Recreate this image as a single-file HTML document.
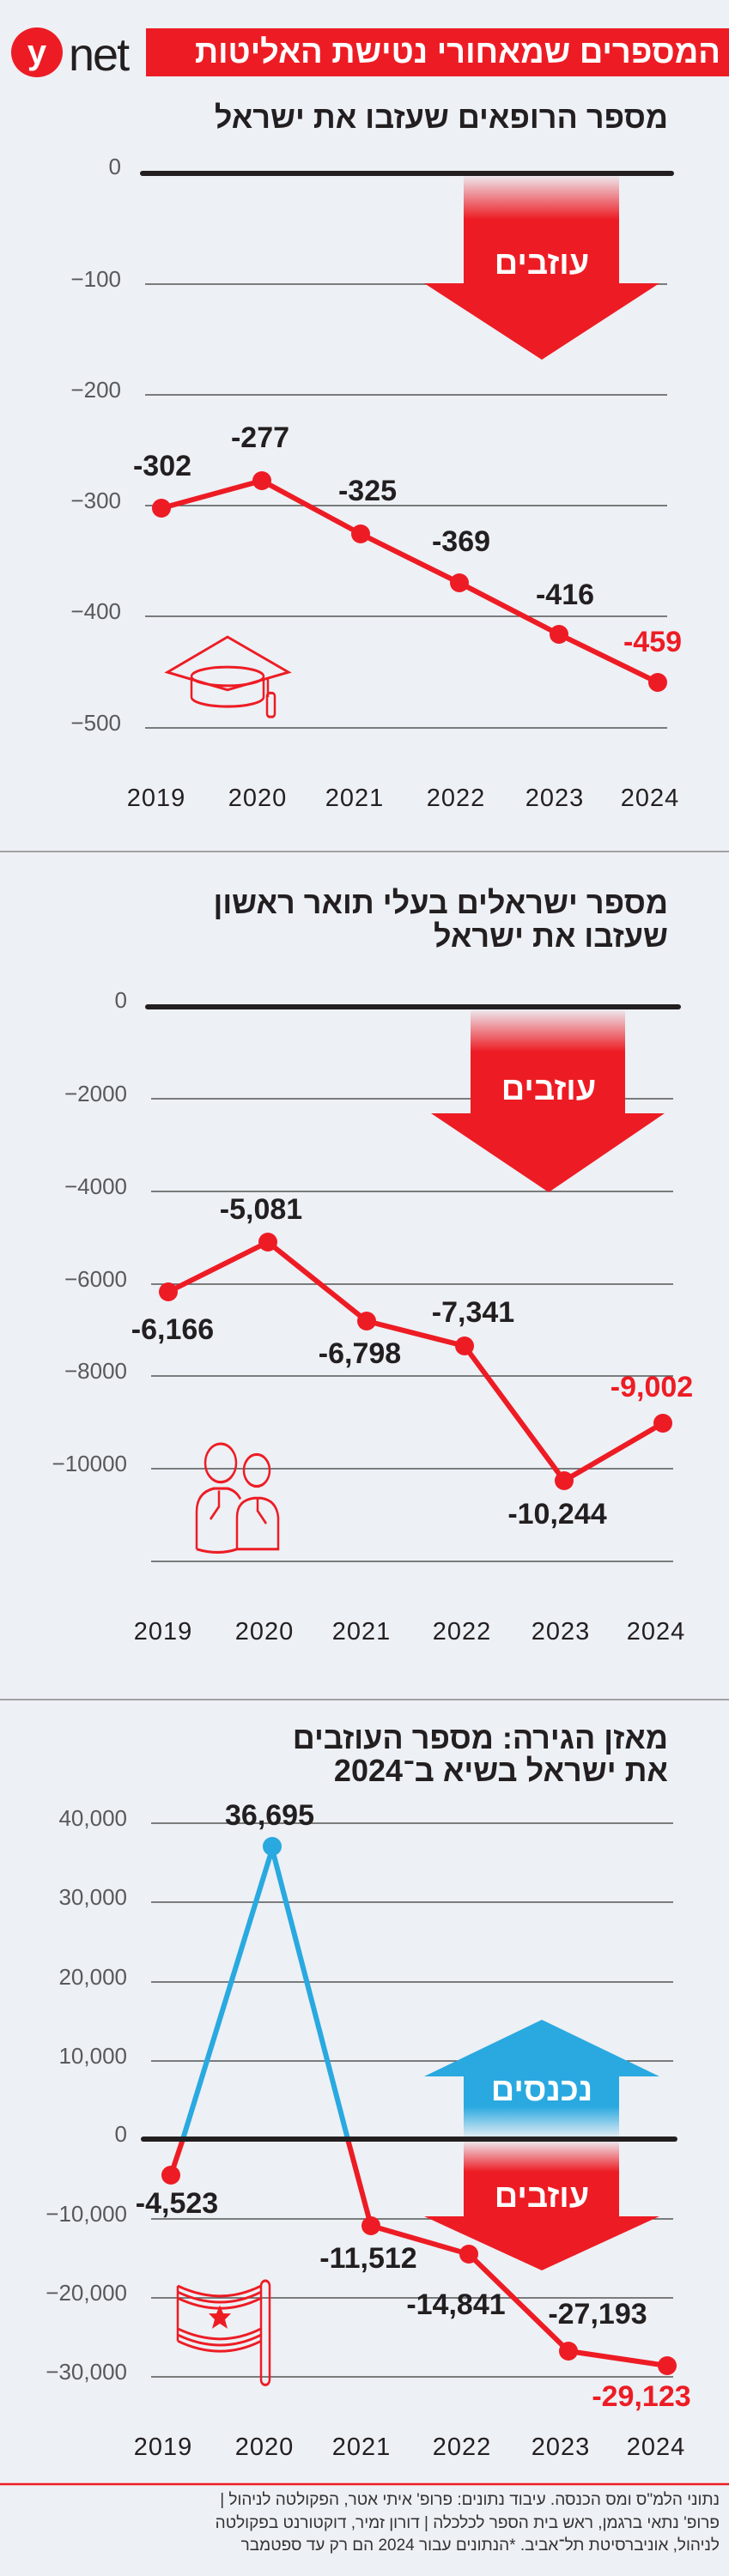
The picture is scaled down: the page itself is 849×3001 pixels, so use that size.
<!DOCTYPE html>
<html><head><meta charset="utf-8">
<style>
html,body{margin:0;padding:0;background:#edf0f5;}
#w{position:relative;width:849px;height:3001px;overflow:hidden;background:#edf0f5;font-family:"Liberation Sans","Noto Sans CJK SC",sans-serif;}
.h{position:absolute;right:71px;direction:rtl;text-align:right;font-weight:bold;color:#231f20;font-size:36px;line-height:39px;white-space:nowrap;}
.f{position:absolute;right:11px;direction:rtl;text-align:right;color:#333;font-size:19px;line-height:26.5px;white-space:nowrap;}
svg{position:absolute;left:0;top:0;}
</style></head><body><div id="w">
<svg width="849" height="3001" viewBox="0 0 849 3001" font-family="Liberation Sans, sans-serif">
<defs>
<linearGradient id="gr" x1="0" y1="0" x2="0" y2="1">
<stop offset="0" stop-color="#ed1c24" stop-opacity="0.05"/><stop offset="0.4" stop-color="#ed1c24" stop-opacity="1"/><stop offset="1" stop-color="#ed1c24"/></linearGradient>
<linearGradient id="gb" x1="0" y1="1" x2="0" y2="0">
<stop offset="0" stop-color="#29a9e0" stop-opacity="0.05"/><stop offset="0.5" stop-color="#29a9e0" stop-opacity="1"/><stop offset="1" stop-color="#29a9e0"/></linearGradient>
</defs>
<!-- header -->
<rect x="170" y="33" width="679" height="56" fill="#ed1c24"/>
<ellipse cx="43" cy="61" rx="30" ry="29" fill="#ed1c24"/>
<text x="43" y="74" font-size="40" font-weight="bold" fill="#fff" text-anchor="middle">y</text>
<text x="80" y="82" font-size="54" fill="#231f20" letter-spacing="-2">net</text>

<!-- CHART 1 -->
<g stroke="#555" stroke-width="1.5">
<line x1="169" y1="331" x2="777" y2="331"/><line x1="169" y1="460" x2="777" y2="460"/>
<line x1="169" y1="589" x2="777" y2="589"/><line x1="169" y1="718" x2="777" y2="718"/>
<line x1="169" y1="848" x2="777" y2="848"/></g>
<rect x="540" y="205" width="181" height="127" fill="url(#gr)"/>
<polygon points="494,330 768,330 631,419" fill="#ed1c24"/>
<line x1="166" y1="202" x2="782" y2="202" stroke="#231f20" stroke-width="6" stroke-linecap="round"/>
<g font-size="26" fill="#58595b" text-anchor="end">
<text x="141" y="202" dy="1">0</text><text x="141" y="331" dy="3">−100</text><text x="141" y="460" dy="3">−200</text>
<text x="141" y="589" dy="3">−300</text><text x="141" y="718" dy="3">−400</text><text x="141" y="848" dy="3">−500</text></g>
<polyline points="188,592 305,560 420,622 535,679 651,739 766,795" fill="none" stroke="#ed1c24" stroke-width="6"/>
<g fill="#ed1c24"><circle cx="188" cy="592" r="11"/><circle cx="305" cy="560" r="11"/><circle cx="420" cy="622" r="11"/><circle cx="535" cy="679" r="11"/><circle cx="651" cy="739" r="11"/><circle cx="766" cy="795" r="11"/></g>
<g font-size="34" font-weight="bold" fill="#231f20" text-anchor="middle">
<text x="189" y="554">-302</text><text x="303" y="521">-277</text><text x="428" y="583">-325</text><text x="537" y="642">-369</text><text x="658" y="704">-416</text>
<text x="760" y="759" fill="#ed1c24">-459</text></g>
<g font-size="29" fill="#231f20" text-anchor="middle" letter-spacing="1">
<text x="182" y="939">2019</text><text x="300" y="939">2020</text><text x="413" y="939">2021</text><text x="531" y="939">2022</text><text x="646" y="939">2023</text><text x="757" y="939">2024</text></g>
<text x="631" y="319" font-size="38" font-weight="bold" fill="#fff" text-anchor="middle">עוזבים</text>
<g fill="none" stroke="#ed1c24" stroke-width="2.5" transform="translate(0,742) scale(1,1.21) translate(0,-632)">
<polygon points="195,666 265,632 336,666 265,683"/>
<ellipse cx="265" cy="670" rx="42" ry="9"/><path d="M223,672 v18 a42,9 0 0 0 84,0 v-18"/>
<path d="M312,672 v18"/><rect x="311" y="686" width="9" height="23" rx="3"/></g>
<line x1="0" y1="992" x2="849" y2="992" stroke="#888" stroke-width="1.5"/>

<!-- CHART 2 -->
<g stroke="#555" stroke-width="1.5">
<line x1="176" y1="1280" x2="784" y2="1280"/><line x1="176" y1="1388" x2="784" y2="1388"/>
<line x1="176" y1="1496" x2="784" y2="1496"/><line x1="176" y1="1603" x2="784" y2="1603"/>
<line x1="176" y1="1711" x2="784" y2="1711"/><line x1="176" y1="1819" x2="784" y2="1819"/></g>
<rect x="548" y="1177" width="180" height="121" fill="url(#gr)"/>
<polygon points="502,1297 774,1297 639,1389" fill="#ed1c24"/>
<line x1="172" y1="1173" x2="790" y2="1173" stroke="#231f20" stroke-width="6" stroke-linecap="round"/>
<g font-size="26" fill="#58595b" text-anchor="end">
<text x="148" y="1173" dy="1">0</text><text x="148" y="1280" dy="3">−2000</text><text x="148" y="1388" dy="3">−4000</text>
<text x="148" y="1496" dy="3">−6000</text><text x="148" y="1603" dy="3">−8000</text><text x="148" y="1711" dy="3">−10000</text></g>
<polyline points="196,1505 312,1447 427,1539 541,1568 657,1725 772,1658" fill="none" stroke="#ed1c24" stroke-width="6"/>
<g fill="#ed1c24"><circle cx="196" cy="1505" r="11"/><circle cx="312" cy="1447" r="11"/><circle cx="427" cy="1539" r="11"/><circle cx="541" cy="1568" r="11"/><circle cx="657" cy="1725" r="11"/><circle cx="772" cy="1658" r="11"/></g>
<g font-size="34" font-weight="bold" fill="#231f20" text-anchor="middle">
<text x="201" y="1560">-6,166</text><text x="304" y="1420">-5,081</text><text x="419" y="1588">-6,798</text><text x="551" y="1540">-7,341</text><text x="649" y="1775">-10,244</text>
<text x="759" y="1627" fill="#ed1c24">-9,002</text></g>
<g font-size="29" fill="#231f20" text-anchor="middle" letter-spacing="1">
<text x="190" y="1910">2019</text><text x="308" y="1910">2020</text><text x="421" y="1910">2021</text><text x="538" y="1910">2022</text><text x="653" y="1910">2023</text><text x="764" y="1910">2024</text></g>
<text x="639" y="1281" font-size="38" font-weight="bold" fill="#fff" text-anchor="middle">עוזבים</text>
<g fill="none" stroke="#ed1c24" stroke-width="2.5" transform="translate(0,1682) scale(1,1.24) translate(0,-1581)">
<circle cx="257" cy="1599" r="18"/><circle cx="299" cy="1606" r="15"/>
<path d="M229,1680 v-35 q0,-18 20,-22 h16 q10,2 15,10"/>
<path d="M276,1680 v-30 q0,-16 20,-18 h8 q18,2 20,18 v30 z"/>
<path d="M229,1680 q25,6 47,0"/><path d="M255,1625 v15 l-10,12"/><path d="M300,1632 v12 l10,12"/></g>
<line x1="0" y1="1980" x2="849" y2="1980" stroke="#888" stroke-width="1.5"/>

<!-- CHART 3 -->
<g stroke="#555" stroke-width="1.5">
<line x1="176" y1="2124" x2="784" y2="2124"/><line x1="176" y1="2216" x2="784" y2="2216"/>
<line x1="176" y1="2309" x2="784" y2="2309"/><line x1="176" y1="2401" x2="784" y2="2401"/>
<line x1="176" y1="2585" x2="784" y2="2585"/><line x1="176" y1="2677" x2="784" y2="2677"/>
<line x1="176" y1="2769" x2="784" y2="2769"/></g>
<polygon points="494,2419 768,2419 631,2353" fill="#29a9e0"/>
<rect x="540" y="2418" width="181" height="72" fill="url(#gb)"/>
<rect x="540" y="2495" width="181" height="88" fill="url(#gr)"/>
<polygon points="494,2582 768,2582 631,2645" fill="#ed1c24"/>
<text x="631" y="2447" font-size="38" font-weight="bold" fill="#fff" text-anchor="middle">נכנסים</text>
<text x="631" y="2571" font-size="38" font-weight="bold" fill="#fff" text-anchor="middle">עוזבים</text>
<g font-size="26" fill="#58595b" text-anchor="end">
<text x="148" y="2124" dy="3">40,000</text><text x="148" y="2216" dy="3">30,000</text><text x="148" y="2309" dy="3">20,000</text>
<text x="148" y="2401" dy="3">10,000</text><text x="148" y="2492" dy="3">0</text><text x="148" y="2585" dy="3">−10,000</text>
<text x="148" y="2677" dy="3">−20,000</text><text x="148" y="2769" dy="3">−30,000</text></g>
<polyline points="213,2492 317,2154 405,2492" fill="none" stroke="#29a9e0" stroke-width="6"/>
<polyline points="199,2534 213,2492" fill="none" stroke="#ed1c24" stroke-width="6"/>
<polyline points="405,2492 432,2593 546,2626 662,2739 777,2756" fill="none" stroke="#ed1c24" stroke-width="6"/>
<line x1="167" y1="2492" x2="786" y2="2492" stroke="#231f20" stroke-width="6" stroke-linecap="round"/>
<circle cx="317" cy="2151" r="11" fill="#29a9e0"/>
<g fill="#ed1c24"><circle cx="199" cy="2534" r="11"/><circle cx="432" cy="2593" r="11"/><circle cx="546" cy="2626" r="11"/><circle cx="662" cy="2739" r="11"/><circle cx="777" cy="2756" r="11"/></g>
<g font-size="34" font-weight="bold" fill="#231f20" text-anchor="middle">
<text x="314" y="2126">36,695</text><text x="206" y="2578">-4,523</text><text x="429" y="2642">-11,512</text><text x="531" y="2696">-14,841</text><text x="696" y="2707">-27,193</text>
<text x="747" y="2803" fill="#ed1c24">-29,123</text></g>
<g font-size="29" fill="#231f20" text-anchor="middle" letter-spacing="1">
<text x="190" y="2860">2019</text><text x="308" y="2860">2020</text><text x="421" y="2860">2021</text><text x="538" y="2860">2022</text><text x="653" y="2860">2023</text><text x="764" y="2860">2024</text></g>
<g transform="translate(0,2657) scale(1,1.19) translate(0,-2558)">
<g fill="none" stroke="#ed1c24" stroke-width="2.5">
<rect x="304" y="2558" width="10" height="102" rx="5"/>
<path d="M207,2563 q50,20 97,0 M207,2569 q50,20 97,0 M207,2575 q50,20 97,0"/>
<path d="M207,2605 q50,20 97,0 M207,2611 q50,20 97,0 M207,2617 q50,20 97,0"/>
<path d="M207,2563 v54"/></g>
<polygon points="256,2582 260,2590 269,2590 262,2596 265,2605 256,2600 247,2605 250,2596 243,2590 252,2590" fill="#ed1c24"/></g>
<line x1="0" y1="2894" x2="849" y2="2894" stroke="#ed1c24" stroke-width="2.5"/>
</svg>
<div class="h" style="top:33px;right:10px;color:#fff;font-size:38px;line-height:56px;">המספרים שמאחורי נטישת האליטות</div>
<div class="h" style="top:117px;">מספר הרופאים שעזבו את ישראל</div>
<div class="h" style="top:1032px;">מספר ישראלים בעלי תואר ראשון<br>שעזבו את ישראל</div>
<div class="h" style="top:2006px;line-height:38px;">מאזן הגירה: מספר העוזבים<br>את ישראל בשיא ב־2024</div>
<div class="f" style="top:2900px;">נתוני הלמ"ס ומס הכנסה. עיבוד נתונים: פרופ' איתי אטר, הפקולטה לניהול |<br>פרופ' נתאי ברגמן, ראש בית הספר לכלכלה | דורון זמיר, דוקטורנט בפקולטה<br>לניהול, אוניברסיטת תל־אביב. *הנתונים עבור 2024 הם רק עד ספטמבר</div>
</div></body></html>
